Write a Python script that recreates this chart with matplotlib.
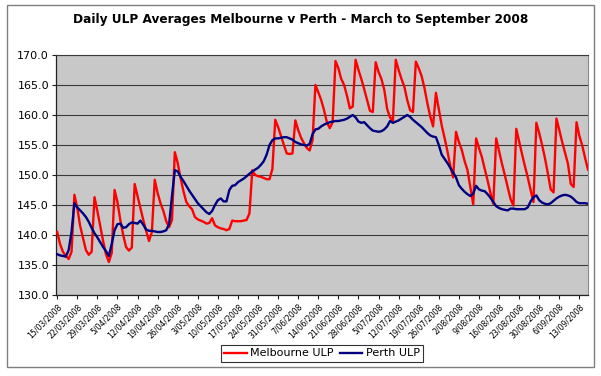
import matplotlib
matplotlib.use('Agg')
import matplotlib.pyplot as plt
import pandas as pd
from matplotlib.patches import Rectangle

start_date = '2008-03-15'

melbourne_ulp = [
    140.5, 138.5, 137.2, 136.5, 136.0, 137.2, 146.7,
    144.5, 141.5, 139.5, 137.5, 136.7, 137.2, 146.3,
    144.0, 141.5, 139.0, 136.8, 135.5, 137.0, 147.5,
    145.5, 142.5, 140.0, 138.0, 137.4, 137.9, 148.5,
    146.5, 144.5, 142.5, 140.7, 139.0, 140.5, 149.2,
    147.0, 145.3, 144.0, 142.3, 141.3, 142.5, 153.8,
    152.0, 149.5, 147.3, 145.5, 144.8, 144.3, 143.0,
    142.6, 142.4, 142.2, 141.9, 142.0, 142.8, 141.6,
    141.3, 141.1, 141.0, 140.8, 141.0, 142.4, 142.3,
    142.3, 142.3, 142.4, 142.5, 143.6, 150.8, 150.0,
    149.8, 149.7, 149.5, 149.3, 149.3, 151.0, 159.2,
    158.0, 156.5, 155.0, 153.6, 153.5, 153.6, 159.1,
    157.5, 156.2, 155.3, 154.5, 154.1, 155.8, 165.0,
    163.8, 162.5, 160.8, 158.8, 157.8, 158.8, 169.0,
    167.8, 166.0, 165.0, 163.2, 161.1, 161.4, 169.2,
    167.5, 166.0, 164.3, 162.5, 160.7, 160.5, 168.8,
    167.2, 166.0, 164.2, 161.0, 159.6, 159.0, 169.2,
    167.5, 166.0, 164.7, 162.5, 160.8, 160.5, 168.9,
    167.8, 166.5, 164.5, 162.0, 159.8, 158.1, 163.7,
    161.0, 158.3, 156.2, 154.0, 151.5, 149.6, 157.2,
    155.5, 154.2, 152.3, 150.8, 148.0, 145.1, 156.1,
    154.5, 153.0, 151.0, 149.1, 147.0, 145.2, 156.1,
    154.0, 151.9, 150.0, 148.0, 146.0, 144.9, 157.7,
    155.6, 153.5, 151.5, 149.6, 147.5, 145.5, 158.7,
    157.0, 155.0, 152.8, 150.3, 147.6, 147.1, 159.4,
    157.5, 155.5, 153.7, 151.9, 148.5, 148.0, 158.8,
    156.5, 154.9, 152.8, 150.9,
]

perth_ulp = [
    136.8, 136.6, 136.5, 136.4, 137.5, 140.5, 145.3,
    144.6, 144.1, 143.6, 143.0, 142.2, 141.2, 140.3,
    139.6, 138.8, 138.0, 137.3, 136.5, 138.5, 140.8,
    141.8, 141.9, 141.2, 141.3, 141.8, 142.1, 142.0,
    141.9, 142.4, 141.7, 140.9, 140.7, 140.7, 140.6,
    140.5, 140.5, 140.6, 140.8, 141.8, 146.5, 150.8,
    150.6, 149.7, 149.0, 148.2, 147.4, 146.7, 146.0,
    145.3, 144.8, 144.3, 143.8, 143.5, 144.0, 145.0,
    145.8, 146.1, 145.6, 145.6, 147.5, 148.2, 148.3,
    148.8, 149.1, 149.4, 149.8, 150.2, 150.6, 150.9,
    151.2, 151.7, 152.3, 153.4, 155.0, 155.8, 156.1,
    156.1, 156.2, 156.3, 156.3, 156.1, 155.9, 155.5,
    155.3, 155.1, 155.0, 154.9, 155.2, 156.8, 157.6,
    157.7, 158.1, 158.4, 158.6, 158.8, 158.9, 159.0,
    159.0, 159.1, 159.2, 159.4, 159.7, 160.0, 159.6,
    158.9, 158.7, 158.8, 158.3, 157.8, 157.4, 157.3,
    157.2, 157.3, 157.6, 158.1, 159.0, 158.7, 158.9,
    159.1, 159.4, 159.7, 160.0, 159.7, 159.2, 158.8,
    158.4, 158.0, 157.5, 157.0, 156.6, 156.4, 156.3,
    155.0, 153.4, 152.7, 152.0, 151.2, 150.4, 149.6,
    148.3, 147.7, 147.2, 146.8, 146.5, 146.9, 148.2,
    147.6, 147.4, 147.3, 146.8, 146.2, 145.5, 144.8,
    144.5, 144.3, 144.2, 144.1, 144.4, 144.4, 144.3,
    144.3, 144.3, 144.3, 144.6, 145.6, 146.3, 146.6,
    145.8, 145.4, 145.2, 145.1, 145.3, 145.7, 146.1,
    146.4, 146.6, 146.7, 146.6, 146.4, 146.0, 145.5,
    145.3, 145.3, 145.3, 145.2,
]

tick_labels = [
    '15/03/2008', '22/03/2008', '29/03/2008', '5/04/2008', '12/04/2008',
    '19/04/2008', '26/04/2008', '3/05/2008', '10/05/2008', '17/05/2008',
    '24/05/2008', '31/05/2008', '7/06/2008', '14/06/2008', '21/06/2008',
    '28/06/2008', '5/07/2008', '12/07/2008', '19/07/2008', '26/07/2008',
    '2/08/2008', '9/08/2008', '16/08/2008', '23/08/2008', '30/08/2008',
    '6/09/2008', '13/09/2008',
]

y_ticks = [130, 135, 140, 145, 150, 155, 160, 165, 170]

series_names = ['Melbourne ULP', 'Perth ULP']
title = 'Daily ULP Averages Melbourne v Perth - March to September 2008'

dates = pd.date_range(start_date, periods=len(melbourne_ulp), freq='D')
tick_dates = pd.to_datetime(tick_labels, format='%d/%m/%Y')

W, H = 601, 376
fig = plt.figure(figsize=(W / 100, H / 100), dpi=100)
fig.patch.set_facecolor('white')

# outer chart border
fig.patches.append(Rectangle((7 / W, 1 - 367 / H), (594 - 7) / W, (367 - 5) / H,
                             transform=fig.transFigure, fill=False,
                             edgecolor='#7f7f7f', linewidth=1.0))

ax = fig.add_axes([56 / W, 1 - 295 / H, (588 - 56) / W, (295 - 55) / H])
ax.set_facecolor('#c8c8c8')

ax.plot(dates, melbourne_ulp, color='#ff0000', linewidth=1.7, label=series_names[0], zorder=3)
ax.plot(dates, perth_ulp, color='#000080', linewidth=1.7, label=series_names[1], zorder=4)

ax.set_ylim(min(y_ticks), max(y_ticks))
ax.set_yticks(y_ticks)
ax.set_yticklabels([f'{v:.1f}' for v in y_ticks], fontsize=8)
ax.set_xlim(dates[0] - pd.Timedelta(hours=10), dates[-1])
ax.set_xticks(tick_dates)
ax.set_xticklabels(tick_labels, rotation=45, ha='right', va='top',
                   rotation_mode='anchor', fontsize=5.6)

ax.yaxis.grid(True, color='#3a3a3a', linewidth=0.8)
ax.set_axisbelow(True)
ax.tick_params(axis='both', direction='out', length=3, width=0.8, color='#222222', pad=2)
for s in ['left', 'bottom']:
    ax.spines[s].set_color('#222222')
    ax.spines[s].set_linewidth(0.9)
ax.spines['top'].set_color('#3a3a3a')
ax.spines['top'].set_linewidth(0.8)
ax.spines['right'].set_color('#8a8a8a')
ax.spines['right'].set_linewidth(0.8)

fig.text(0.5, 1 - 20 / H, title, ha='center', va='center',
         fontsize=8.7, fontweight='bold')

leg = fig.legend(loc='center', bbox_to_anchor=(322 / W, 1 - 353.5 / H), ncol=2,
                 fontsize=8, frameon=True, fancybox=False, handlelength=2.0,
                 handletextpad=0.3, columnspacing=0.6, borderpad=0.3)
leg.get_frame().set_edgecolor('#000000')
leg.get_frame().set_linewidth(0.8)

fig.savefig('out.png', dpi=100, facecolor='white')
